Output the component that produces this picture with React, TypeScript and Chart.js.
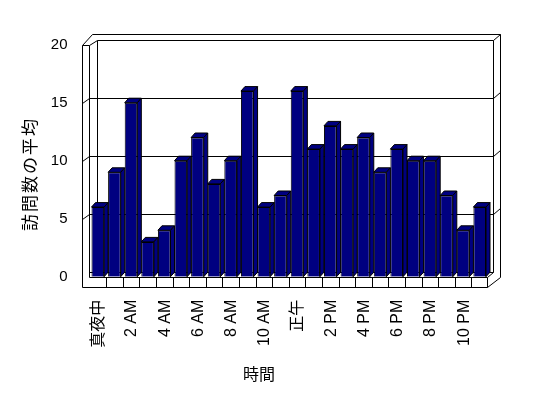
import React, { useEffect, useRef } from 'react';
import { Chart, registerables } from 'chart.js';

Chart.register(...registerables);

const hourLabels = [
  '真夜中', '1 AM', '2 AM', '3 AM', '4 AM', '5 AM', '6 AM', '7 AM', '8 AM', '9 AM', '10 AM', '11 AM',
  '正午', '1 PM', '2 PM', '3 PM', '4 PM', '5 PM', '6 PM', '7 PM', '8 PM', '9 PM', '10 PM', '11 PM',
];
const avgVisits = [6, 9, 15, 3, 4, 10, 12, 8, 10, 16, 6, 7, 16, 11, 13, 11, 12, 9, 11, 10, 10, 7, 4, 6];
const yTicks = [0, 5, 10, 15, 20];
const yTitle = '訪問数の平均';
const xTitle = '時間';

const NAVY = '#000080';
const LATIN = "'Liberation Sans', Arial, 'Noto Sans CJK JP', sans-serif";
const CJK = "'Noto Sans CJK JP', 'Liberation Sans', sans-serif";

const box3d = {
  id: 'box3d',
  beforeDatasetsDraw(chart: any) {
    const { ctx, chartArea: ca, scales } = chart;
    const ys = scales.y;
    const L = ca.left;
    const R = ca.right;
    const yF = (v: number) => ys.getPixelForValue(v);
    const yB = (v: number) => yF(v) - 4.5;
    const p = (n: number) => Math.round(n) + 0.5;
    const top = yF(20);
    const bot = yF(0);
    const T = yB(20) - 6.5;
    ctx.save();
    ctx.strokeStyle = '#000';
    ctx.lineWidth = 1;
    const line = (pts: number[][]) => {
      ctx.beginPath();
      pts.forEach(([x, y], i) => (i ? ctx.lineTo(p(x), p(y)) : ctx.moveTo(p(x), p(y))));
      ctx.stroke();
    };
    // back wall gridlines + left / right wall ticks
    yTicks.forEach((v) => {
      if (v === 0) {
        line([[L - 1, yB(0)], [R + 5, yB(0)]]);
      } else if (v === 20) {
        line([[L - 8, top], [L - 1, top], [L + 7, yB(20)], [R + 5, yB(20)], [R + 12, T]]);
      } else {
        line([[L - 8, yF(v)], [L - 1, yB(v)], [R + 5, yB(v)], [R + 12, yB(v) - 6.5]]);
      }
    });
    // outer frame
    line([[L - 8, bot + 10], [L - 8, top], [L + 2, T], [R + 12, T], [R + 12, bot]]);
    // inner verticals
    line([[L - 1, top], [L - 1, bot]]);
    line([[L + 7, yB(20)], [L + 7, yB(0)]]);
    line([[R + 5, yB(20)], [R + 5, yB(0)]]);
    // floor
    line([[L - 1, bot], [R - 1, bot], [R + 5, yB(0)]]);
    line([[L - 8, bot + 10], [R - 1, bot + 10], [R + 12, bot]]);
    line([[R - 1, bot], [R - 1, bot + 10]]);
    const n = hourLabels.length;
    for (let k = 1; k < n; k++) {
      const x = L + (k * (R - L)) / n;
      line([[x, bot], [x, bot + 10]]);
    }
    // 3D faces of bars
    const dx = 4;
    const dy = -4.5;
    const meta = chart.getDatasetMeta(0);
    ctx.fillStyle = NAVY;
    meta.data.forEach((el: any) => {
      const { x, y, base, width } = el.getProps(['x', 'y', 'base', 'width'], true);
      const l = x - width / 2;
      const r = x + width / 2;
      const poly = (pts: number[][]) => {
        ctx.beginPath();
        pts.forEach(([a, b], i) => (i ? ctx.lineTo(a, b) : ctx.moveTo(a, b)));
        ctx.closePath();
        ctx.fill();
        ctx.stroke();
      };
      poly([[l, y], [l + dx, y + dy], [r + dx, y + dy], [r, y]]);
      poly([[r, y], [r + dx, y + dy], [r + dx, base + dy], [r, base]]);
    });
    ctx.restore();
  },
  afterDraw(chart: any) {
    const { ctx } = chart;
    ctx.save();
    ctx.fillStyle = '#000';
    ctx.textAlign = 'center';
    ctx.textBaseline = 'middle';
    // y title
    ctx.save();
    ctx.translate(30, 175);
    ctx.rotate(-Math.PI / 2);
    ctx.font = `17px ${CJK}`;
    try { (ctx as any).letterSpacing = '2px'; } catch (e) {}
    ctx.fillText(yTitle, 1, 0);
    ctx.restore();
    // x title
    try { (ctx as any).letterSpacing = '0px'; } catch (e) {}
    ctx.font = `16px ${CJK}`;
    ctx.fillText(xTitle, 259, 374);
    ctx.restore();
  },
};

export default function App() {
  const ref = useRef<HTMLCanvasElement | null>(null);
  useEffect(() => {
    if (!ref.current) return;
    const chart = new Chart(ref.current, {
      type: 'bar',
      data: {
        labels: hourLabels,
        datasets: [
          {
            data: avgVisits,
            backgroundColor: NAVY,
            borderColor: '#000',
            borderWidth: 1,
            barPercentage: 0.76,
            categoryPercentage: 1,
          },
        ],
      },
      options: {
        animation: false,
        responsive: false,
        devicePixelRatio: 1,
        events: [],
        layout: { padding: { top: 44.7, right: 60, left: 0, bottom: 0 } },
        plugins: { legend: { display: false }, tooltip: { enabled: false }, title: { display: false } },
        scales: {
          x: {
            grid: { display: false, drawTicks: false },
            border: { display: false },
            ticks: {
              autoSkip: false,
              minRotation: 90,
              maxRotation: 90,
              padding: 23,
              labelOffset: 1,
              color: '#000',
              font: { family: LATIN, size: 16 },
              callback: (_v: any, i: number) => (i % 2 === 0 ? hourLabels[i] : ''),
            },
            afterFit: (s: any) => {
              s.height = 398 - 276.7;
            },
          },
          y: {
            min: 0,
            max: 20,
            grid: { display: false, drawTicks: false },
            border: { display: false },
            ticks: {
              stepSize: 5,
              padding: 22,
              color: '#000',
              font: { family: LATIN, size: 15 },
            },
            afterFit: (s: any) => {
              s.width = 89.5;
            },
          },
        },
      },
      plugins: [box3d],
    });
    return () => chart.destroy();
  }, []);
  return (
    <div style={{ position: 'absolute', left: 0, top: 0, width: 548, height: 398, background: '#fff' }}>
      <canvas ref={ref} width={548} height={398} style={{ display: 'block' }} />
    </div>
  );
}
